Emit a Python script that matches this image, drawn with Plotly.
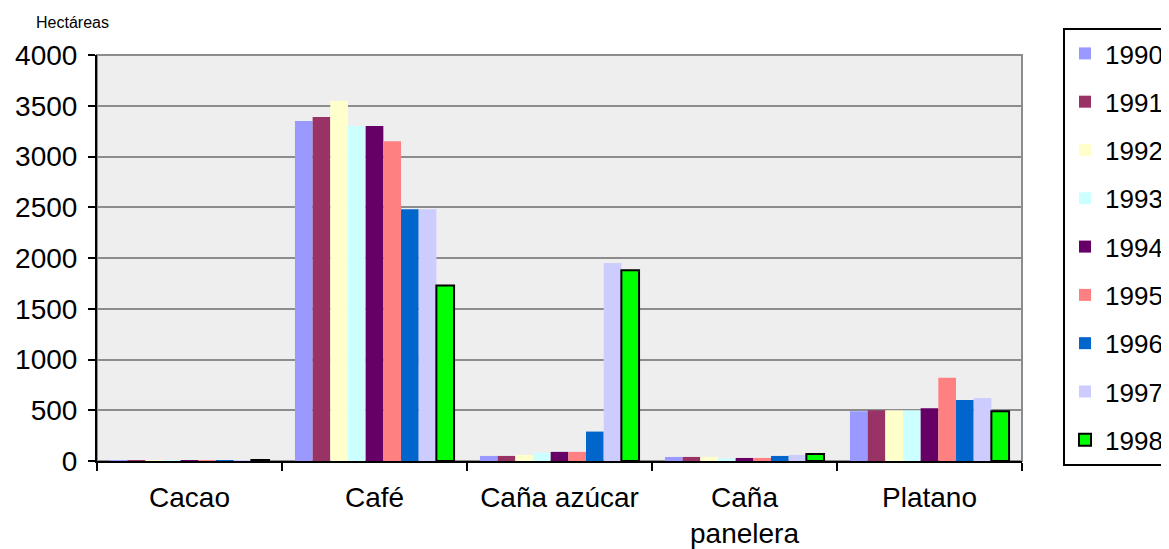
import plotly.graph_objects as go

categories = ["Cacao", "Café", "Caña azúcar", "Caña<br>panelera", "Platano"]
years = ["1990", "1991", "1992", "1993", "1994", "1995", "1996", "1997", "1998"]
v1990 = [5, 3350, 50, 40, 490]
v1991 = [5, 3390, 50, 40, 500]
v1992 = [5, 3550, 60, 40, 500]
v1993 = [5, 3300, 80, 25, 500]
v1994 = [5, 3300, 90, 30, 520]
v1995 = [5, 3150, 90, 30, 820]
v1996 = [5, 2480, 290, 50, 600]
v1997 = [5, 2480, 1950, 60, 620]
v1998 = [10, 1730, 1880, 70, 490]
series = [v1990, v1991, v1992, v1993, v1994, v1995, v1996, v1997, v1998]
colors = ["#9999FF", "#993366", "#FFFFCC", "#CCFFFF", "#660066",
          "#FF8080", "#0066CC", "#CCCCFF", "#00FF00"]

FONT = "Liberation Sans, Arial, sans-serif"

fig = go.Figure()
for yr, vals, col in zip(years, series, colors):
    outlined = yr == "1998"
    fig.add_trace(go.Bar(
        x=categories, y=vals, name=yr, legendgroup=yr,
        marker=dict(color=col,
                    line=dict(color="black", width=2 if outlined else 0)),
    ))

fig.update_layout(
    width=1169, height=549,
    margin=dict(l=89, r=155, t=47, b=96),
    paper_bgcolor="white",
    plot_bgcolor="#EEEEEE",
    barmode="group",
    bargap=0.14,
    bargroupgap=0,
    font=dict(family=FONT, color="black"),
    legend=dict(
        xref="container", yref="container",
        x=0.9025, xanchor="left", y=0.9636, yanchor="top",
        bordercolor="black", borderwidth=2,
        font=dict(size=26, family=FONT),
        tracegroupgap=11.5,
        itemwidth=30,
        maxheight=545,
    ),
    xaxis=dict(
        automargin=False,
        showline=True, linecolor="black", linewidth=2,
        ticks="outside", tickson="boundaries", ticklen=8, tickcolor="black", tickwidth=2,
        tickfont=dict(size=28, family=FONT),
        ticklabelstandoff=10,
        showgrid=False,
    ),
    yaxis=dict(
        automargin=False,
        range=[0, 4000], dtick=500,
        showline=True, linecolor="black", linewidth=2,
        ticks="outside", ticklen=7, tickcolor="black", tickwidth=2,
        tickfont=dict(size=28, family=FONT),
        ticklabelstandoff=5,
        showgrid=True, gridcolor="#8C8C8C", gridwidth=2,
        zeroline=False,
    ),
    annotations=[dict(
        text="Hectáreas", xref="paper", yref="paper", x=-0.068, y=1.08,
        xanchor="left", yanchor="middle", showarrow=False,
        font=dict(size=16, family=FONT),
    )],
    shapes=[dict(type="rect", xref="paper", yref="paper", x0=0, x1=1, y0=0, y1=1,
                 line=dict(color="#8C8C8C", width=2), layer="below")],
)

fig.write_html("out.html")
